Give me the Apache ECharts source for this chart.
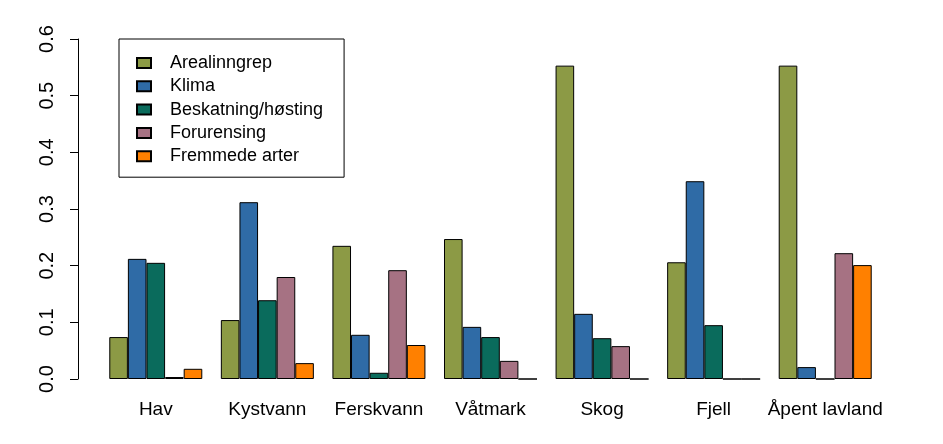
<!DOCTYPE html>
<html>
<head>
<meta charset="utf-8">
<script src="https://cdn.jsdelivr.net/npm/echarts@6/dist/echarts.min.js"></script>
<style>html,body{margin:0;padding:0;background:#fff;}#c{width:943px;height:444px;}</style>
</head>
<body>
<div id="c"></div>
<script>
var categories = ['Hav', 'Kystvann', 'Ferskvann', 'Våtmark', 'Skog', 'Fjell', 'Åpent lavland'];
var seriesNames = ['Arealinngrep', 'Klima', 'Beskatning/høsting', 'Forurensing', 'Fremmede arter'];
var arealinngrep = [0.074, 0.104, 0.235, 0.247, 0.553, 0.206, 0.553];
var klima        = [0.212, 0.312, 0.078, 0.092, 0.115, 0.349, 0.021];
var beskatning   = [0.205, 0.139, 0.011, 0.074, 0.072, 0.095, 0];
var forurensing  = [0.0035, 0.180, 0.192, 0.032, 0.058, 0, 0.222];
var fremmede     = [0.018, 0.028, 0.060, 0, 0, 0, 0.201];
var yTicks = [0, 0.1, 0.2, 0.3, 0.4, 0.5, 0.6];

var colors = ['#8C9A45', '#2F6BA6', '#0A6B5C', '#A67283', '#FF8000'];
var dataSets = [arealinngrep, klima, beskatning, forurensing, fremmede];
var font = 'Liberation Sans, Arial, sans-serif';

var chart = echarts.init(document.getElementById('c'), null, {renderer: 'canvas'});
var series = dataSets.map(function (d, i) {
  return {
    name: seriesNames[i],
    type: 'bar',
    data: d,
    barWidth: 18.6,
    barGap: '0%',
    itemStyle: {color: colors[i], borderColor: '#000', borderWidth: 1},
    emphasis: {disabled: true},
    animation: false
  };
});

chart.setOption({
  animation: false,
  backgroundColor: '#fff',
  grid: {left: 100, right: 62, top: 39, bottom: 65, containLabel: false},
  legend: {
    orient: 'vertical',
    left: 119,
    top: 39,
    data: seriesNames,
    icon: 'rect',
    itemWidth: 14,
    itemHeight: 10,
    itemGap: 5.3,
    padding: [15, 21, 12, 17],
    borderColor: '#000',
    borderWidth: 1,
    textStyle: {fontFamily: font, fontSize: 18, lineHeight: 18, color: '#000', padding: [0, 0, 0, 14]}
  },
  xAxis: {
    type: 'category',
    data: categories,
    axisLine: {show: false},
    axisTick: {show: false},
    axisLabel: {color: '#000', fontFamily: font, fontSize: 19, margin: 21, interval: 0}
  },
  yAxis: {
    type: 'value',
    min: yTicks[0],
    max: yTicks[yTicks.length - 1],
    interval: 0.1,
    offset: 22,
    axisLine: {show: true, lineStyle: {color: '#000', width: 1}},
    axisTick: {show: true, length: 8, lineStyle: {color: '#000'}},
    splitLine: {show: false},
    axisLabel: {
      color: '#000', fontFamily: font, fontSize: 20, rotate: 90, margin: 21,
      formatter: function (v) { return v.toFixed(1); }
    }
  },
  series: series
});
</script>
</body>
</html>
